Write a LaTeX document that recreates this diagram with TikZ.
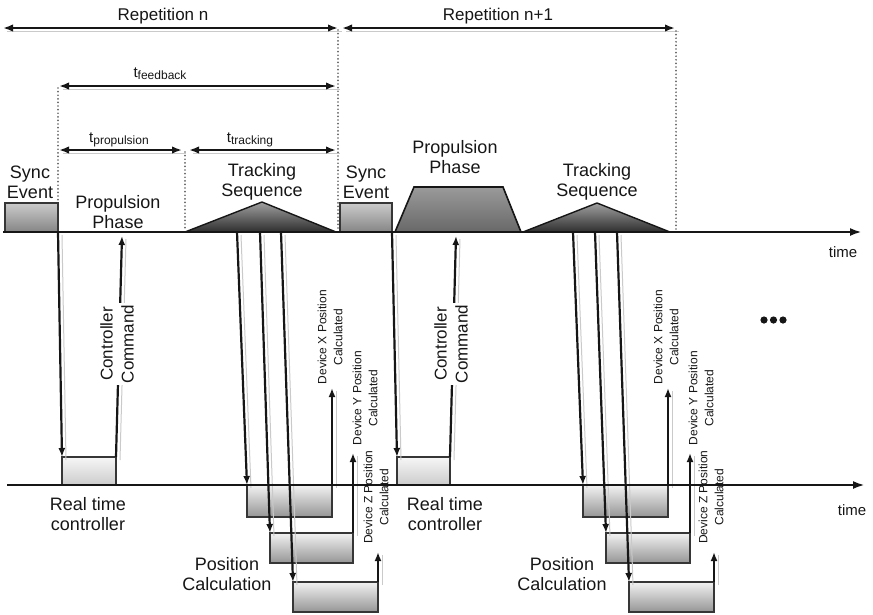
\documentclass[tikz,border=0pt]{standalone}
\usepackage{fontspec}
\setmainfont{Liberation Sans}
\usetikzlibrary{arrows.meta}
\definecolor{ink}{HTML}{161616}
\definecolor{edge}{HTML}{363636}
\definecolor{dotc}{HTML}{626262}
\definecolor{shade}{HTML}{CACACA}
\definecolor{syncTop}{HTML}{CBCBCB}
\definecolor{syncBot}{HTML}{858585}
\definecolor{trapTop}{HTML}{9A9A9A}
\definecolor{trapBot}{HTML}{686868}
\definecolor{triTop}{HTML}{A0A0A0}
\definecolor{triBot}{HTML}{2E2E2E}
\definecolor{rtcTop}{HTML}{F6F6F6}
\definecolor{rtcBot}{HTML}{CCCCCC}
\definecolor{posTop}{HTML}{F2F2F2}
\definecolor{posBot}{HTML}{959595}
\begin{document}
\begin{tikzpicture}[x=1pt,y=-1pt,
  every node/.style={inner sep=0pt,outer sep=0pt},
  shadowed/.style={preaction={draw=shade,line width=1pt,arrows=-,
      transform canvas={xshift=4pt,yshift=-3pt}}},
  conn/.style={draw=ink,line width=2.2pt,-{Latex[length=9pt,width=7pt]},shadowed},
  dimarrow/.style={draw=ink,line width=2.3pt,
      {Latex[length=10pt,width=7.5pt]}-{Latex[length=10pt,width=7.5pt]},shadowed},
  axisline/.style={draw=ink,line width=2.4pt,-{Latex[length=12pt,width=8pt]}},
  dotline/.style={draw=dotc,line width=1.9pt,line cap=round,dash pattern=on 0pt off 3.6pt},
  lbl/.style={font=\fontsize{18}{20}\selectfont,align=center,text=ink},
  title/.style={font=\fontsize{17}{20}\selectfont,text=ink,anchor=base},
  cmdlbl/.style={font=\fontsize{17}{21}\selectfont,align=center,text=ink,rotate=90,
      fill=white,inner sep=2pt},
  devlbl/.style={font=\fontsize{12}{16}\selectfont,align=center,text=ink,rotate=90},
  timelbl/.style={font=\fontsize{15}{16}\selectfont,text=ink},
  tlbl/.style={font=\fontsize{15}{16}\selectfont,text=ink,anchor=base},
  syncbox/.style={draw=edge,line width=1.4pt,top color=syncTop,bottom color=syncBot,
      rectangle,anchor=north west},
  rtcbox/.style={draw=edge,line width=1.4pt,top color=rtcTop,bottom color=rtcBot,
      rectangle,anchor=north west},
  posbox/.style={draw=edge,line width=1.4pt,top color=posTop,bottom color=posBot,
      rectangle,anchor=north west},
  trishape/.style={draw=ink,line width=1.4pt,top color=triTop,bottom color=triBot},
  trapshape/.style={draw=ink,line width=1.6pt,top color=trapTop,bottom color=trapBot},
]
\useasboundingbox (0,0) rectangle (873,614);
\newcommand{\sub}[1]{\raisebox{-2pt}{\fontsize{12}{12}\selectfont #1}}

% ---------- repetition spans ----------
\coordinate (r0) at (3,28);
\coordinate (r1) at (338,28);
\coordinate (r2) at (342,28);
\coordinate (r3) at (675,28);
\draw[dimarrow] (r0) -- (r1);
\draw[dimarrow] (r2) -- (r3);
\node[title] (repn) at (163,20) {Repetition n};
\node[title] (repn1) at (498,20) {Repetition n+1};

% ---------- time spans ----------
\coordinate (f0) at (59,86);
\coordinate (f1) at (336,86);
\coordinate (p0) at (59,150);
\coordinate (p1) at (182,150);
\coordinate (k0) at (189,150);
\coordinate (k1) at (336,150);
\draw[dimarrow] (f0) -- (f1);
\draw[dimarrow] (p0) -- (p1);
\draw[dimarrow] (k0) -- (k1);
\node[tlbl] (tfb) at (160,77) {t\sub{feedback}};
\node[tlbl] (tprop) at (119,142) {t\sub{propulsion}};
\node[tlbl] (ttrk) at (250,142) {t\sub{tracking}};

% ---------- dotted markers ----------
\coordinate (d0a) at (58,88);   \coordinate (d0b) at (58,231);
\coordinate (d1a) at (185,152); \coordinate (d1b) at (185,231);
\coordinate (d2a) at (338,30);  \coordinate (d2b) at (338,231);
\coordinate (d3a) at (676,31);  \coordinate (d3b) at (676,231);
\draw[dotline] (d0a) -- (d0b);
\draw[dotline] (d1a) -- (d1b);
\draw[dotline] (d2a) -- (d2b);
\draw[dotline] (d3a) -- (d3b);

% ---------- upper time line: events ----------
\node[syncbox,minimum width=53pt,minimum height=29pt] (sync1) at (5,203) {};
\node[syncbox,minimum width=52pt,minimum height=29pt] (sync2) at (340,203) {};

\coordinate (ta1) at (185,232);
\coordinate (tb1) at (262,202);
\coordinate (tc1) at (336,232);
\draw[trishape] (ta1) -- (tb1) -- (tc1) -- cycle;

\coordinate (ta2) at (523,232);
\coordinate (tb2) at (597,203);
\coordinate (tc2) at (670,232);
\draw[trishape] (ta2) -- (tb2) -- (tc2) -- cycle;

\coordinate (pa) at (395,232);
\coordinate (pb) at (414,187);
\coordinate (pc) at (503,187);
\coordinate (pd) at (521,232);
\draw[trapshape] (pa) -- (pb) -- (pc) -- (pd) -- cycle;

\node[lbl] (synclbl1) at (30,182) {Sync\\Event};
\node[lbl] (synclbl2) at (366,182) {Sync\\Event};
\node[lbl] (proplbl1) at (118,212) {Propulsion\\Phase};
\node[lbl] (proplbl2) at (455,157) {Propulsion\\Phase};
\node[lbl] (trklbl1) at (262,182) {Tracking\\Sequence};
\node[lbl] (trklbl2) at (597,182) {Tracking\\Sequence};

\coordinate (axA) at (3,232);
\coordinate (axB) at (862,232);
\draw[axisline] (axA) -- (axB);
\node[timelbl] (time1) at (843,252) {time};

% ---------- lower time line: controller ----------
\node[rtcbox,minimum width=54pt,minimum height=28pt] (rtc1) at (62,457) {};
\node[rtcbox,minimum width=53pt,minimum height=28pt] (rtc2) at (397,457) {};
\node[lbl] (rtclbl1) at (88,514) {Real time\\controller};
\node[lbl] (rtclbl2) at (445,514) {Real time\\controller};

% ---------- lower time line: position calculation ----------
\node[posbox,minimum width=85pt,minimum height=32pt] (A1) at (247,485) {};
\node[posbox,minimum width=83pt,minimum height=30pt] (B1) at (270,533) {};
\node[posbox,minimum width=85pt,minimum height=30pt] (C1) at (293,582) {};
\node[posbox,minimum width=85pt,minimum height=32pt] (A2) at (583,485) {};
\node[posbox,minimum width=84pt,minimum height=30pt] (B2) at (606,533) {};
\node[posbox,minimum width=85pt,minimum height=30pt] (C2) at (629,582) {};
\node[lbl] (poslbl1) at (227,574) {Position\\Calculation};
\node[lbl] (poslbl2) at (562,574) {Position\\Calculation};

% sync event triggers controller
\draw[conn] (sync1.south east) -- (rtc1.north west);
\draw[conn] (sync2.south east) -- (rtc2.north west);
% controller command back to propulsion
\coordinate (cmdend1) at (122,236);
\coordinate (cmdend2) at (456,236);
\draw[conn] (rtc1.north east) -- (cmdend1);
\draw[conn] (rtc2.north east) -- (cmdend2);
\node[cmdlbl] (cmd1) at (117,344) {Controller\\Command};
\node[cmdlbl] (cmd2) at (451,344) {Controller\\Command};

% tracking samples start position calculations
\coordinate (s11) at (237,232);
\coordinate (s12) at (260,232);
\coordinate (s13) at (281,232);
\coordinate (s21) at (573,232);
\coordinate (s22) at (595,232);
\coordinate (s23) at (617,232);
\draw[conn] (s11) -- (A1.north west);
\draw[conn] (s12) -- (B1.north west);
\draw[conn] (s13) -- (C1.north west);
\draw[conn] (s21) -- (A2.north west);
\draw[conn] (s22) -- (B2.north west);
\draw[conn] (s23) -- (C2.north west);

% results reported
\coordinate (x1) at (332,388);
\coordinate (y1) at (353,453);
\coordinate (z1) at (378,552);
\coordinate (x2) at (668,388);
\coordinate (y2) at (690,453);
\coordinate (z2) at (714,552);
\draw[conn] (A1.north east) -- (x1);
\draw[conn] (B1.north east) -- (y1);
\draw[conn] (C1.north east) -- (z1);
\draw[conn] (A2.north east) -- (x2);
\draw[conn] (B2.north east) -- (y2);
\draw[conn] (C2.north east) -- (z2);

\coordinate (bxA) at (7,485);
\coordinate (bxB) at (865,485);
\draw[axisline] (bxA) -- (bxB);
\node[timelbl] (time2) at (852,510) {time};

\node[devlbl] (devx1) at (330,337) {Device X Position\\Calculated};
\node[devlbl] (devy1) at (365,398) {Device Y Position\\Calculated};
\node[devlbl] (devz1) at (376,497) {Device Z Position\\Calculated};
\node[devlbl] (devx2) at (666,337) {Device X Position\\Calculated};
\node[devlbl] (devy2) at (701,398) {Device Y Position\\Calculated};
\node[devlbl] (devz2) at (711,497) {Device Z Position\\Calculated};

% continuation
\fill[ink] (764,320) circle (3.6pt) (773.5,320) circle (3.6pt) (783,320) circle (3.6pt);
\end{tikzpicture}
\end{document}
